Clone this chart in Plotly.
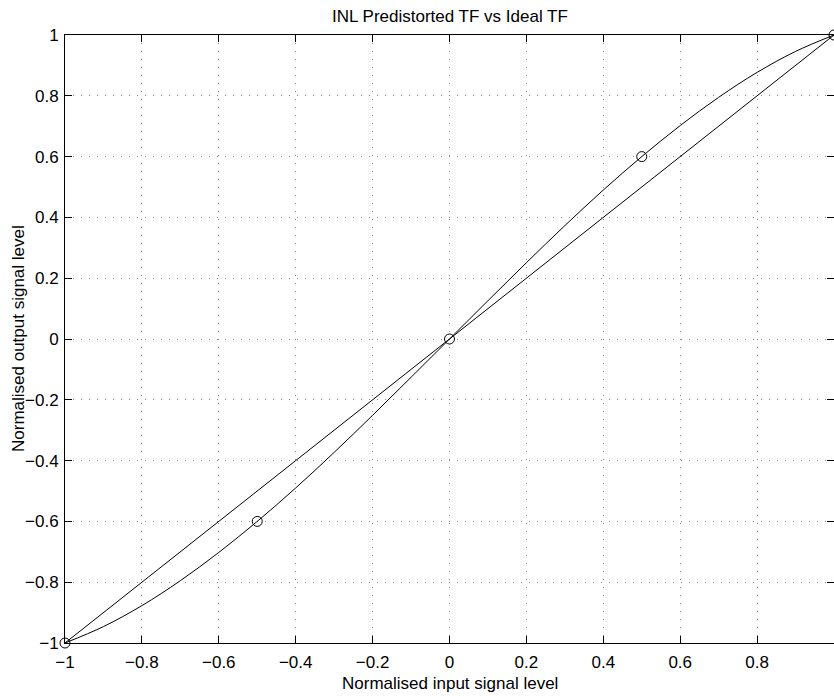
import plotly.graph_objects as go

# Predistorted transfer function, sampled along the input axis
x_curve = [-1.0, -0.9, -0.8, -0.7, -0.6, -0.5, -0.4, -0.3, -0.2, -0.1, 0.0,
           0.1, 0.2, 0.3, 0.4, 0.5, 0.6, 0.7, 0.8, 0.9, 1.0]
y_curve = [-1.0, -0.946, -0.877, -0.795, -0.702, -0.6, -0.490, -0.373, -0.251, -0.126, 0.0,
           0.126, 0.251, 0.373, 0.490, 0.6, 0.702, 0.795, 0.877, 0.946, 1.0]

# Breakpoints of the predistortion (circle markers)
x_points = [-1.0, -0.5, 0.0, 0.5, 1.0]
y_points = [-1.0, -0.6, 0.0, 0.6, 1.0]

# Ideal transfer function
x_ideal = [-1.0, 1.0]
y_ideal = [-1.0, 1.0]

tick_vals = [-1, -0.8, -0.6, -0.4, -0.2, 0, 0.2, 0.4, 0.6, 0.8, 1]
tick_text = ["\u22121", "\u22120.8", "\u22120.6", "\u22120.4", "\u22120.2", "0",
             "0.2", "0.4", "0.6", "0.8", "1"]

FONT = "Liberation Sans, Arial, Helvetica, sans-serif"
X_RANGE = [-1, 1]
Y_RANGE = [-1, 1]

fig = go.Figure()
fig.add_trace(go.Scatter(x=x_curve, y=y_curve, mode="lines", line_shape="spline",
                         line=dict(color="black", width=1), hoverinfo="skip"))
fig.add_trace(go.Scatter(x=x_ideal, y=y_ideal, mode="lines",
                         line=dict(color="black", width=1), hoverinfo="skip"))
fig.add_trace(go.Scatter(x=x_points, y=y_points, mode="markers", cliponaxis=False,
                         marker=dict(symbol="circle-open", size=10,
                                     line=dict(color="black", width=1), color="black")))
# empty trace carrying the right-hand tick marks
fig.add_trace(go.Scatter(x=[None], y=[None], yaxis="y2", showlegend=False, hoverinfo="skip"))

grid = dict(showgrid=True, gridcolor="#8a8a8a", gridwidth=1, griddash="1px,7px")
ticks = dict(tickvals=tick_vals, ticktext=tick_text, ticks="inside", ticklen=7,
             tickwidth=1, tickcolor="black", zeroline=False,
             tickfont=dict(family=FONT, size=17, color="black"))

fig.update_layout(
    width=834, height=696,
    margin=dict(l=65, r=0, t=35, b=53),
    paper_bgcolor="white", plot_bgcolor="white",
    showlegend=False,
    xaxis=dict(range=X_RANGE, showline=True, linecolor="black", linewidth=1,
               mirror="ticks", ticklabelstandoff=4, **grid, **ticks),
    yaxis=dict(range=Y_RANGE, showline=True, linecolor="black", linewidth=1,
               mirror=False, ticklabelstandoff=2, **grid, **ticks),
    yaxis2=dict(range=Y_RANGE, overlaying="y", side="right", showline=False,
                showgrid=False, showticklabels=False, **ticks),
    font=dict(family=FONT, size=17, color="black"),
    annotations=[
        dict(text="INL Predistorted TF vs Ideal TF", xref="paper", yref="paper",
             x=0.5, y=1.0312, xanchor="center", yanchor="middle", showarrow=False,
             font=dict(family=FONT, size=17, color="black")),
        dict(text="Normalised input signal level", xref="paper", yref="paper",
             x=0.5, y=-0.0658, xanchor="center", yanchor="middle", showarrow=False,
             font=dict(family=FONT, size=17, color="black")),
        dict(text="Normalised output signal level", xref="paper", yref="paper",
             x=-0.0611, y=0.5, xanchor="center", yanchor="middle", showarrow=False,
             textangle=-90, font=dict(family=FONT, size=17, color="black")),
    ],
)

fig.write_html("out.html")
